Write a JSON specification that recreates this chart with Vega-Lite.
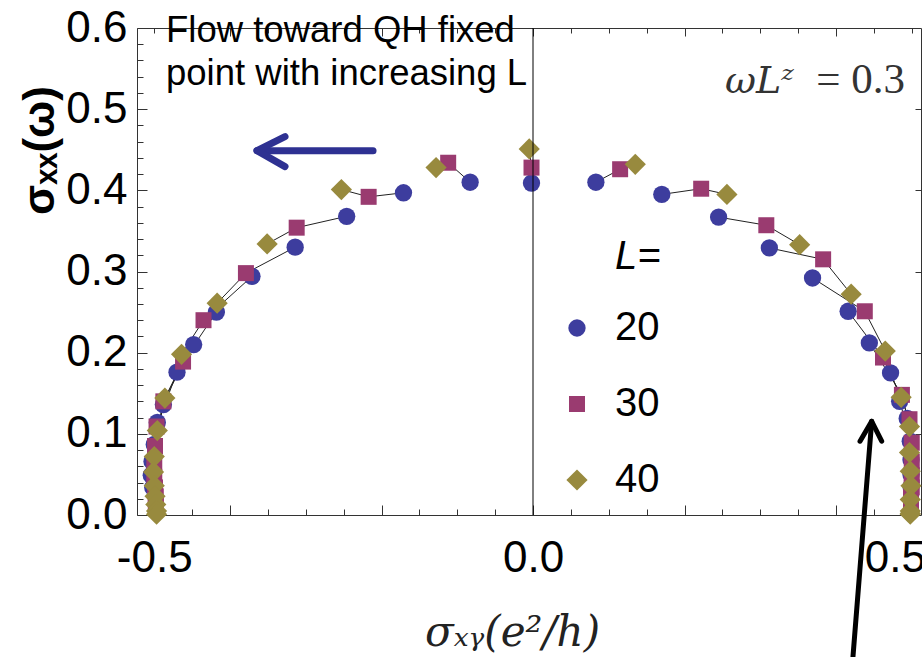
{
  "$schema": "https://vega.github.io/schema/vega-lite/v6.json",
  "width": 784,
  "height": 487,
  "autosize": {"type": "none"},
  "padding": {"left": 137, "top": 28, "right": 1, "bottom": 142},
  "background": "white",
  "datasets": {
    "pts": [
      {"g":"a","L":20,"x":-0.002,"y":0.409},{"g":"b","L":20,"x":-0.083,"y":0.410},{"g":"c","L":20,"x":0.083,"y":0.410},
      {"g":"d","L":20,"x":-0.171,"y":0.397},{"g":"e","L":20,"x":0.170,"y":0.395},{"g":"f","L":20,"x":-0.246,"y":0.368},
      {"g":"g","L":20,"x":0.245,"y":0.367},{"g":"h","L":20,"x":-0.314,"y":0.330},{"g":"h2","L":20,"x":0.312,"y":0.329},
      {"g":"i","L":20,"x":-0.371,"y":0.294},{"g":"i2","L":20,"x":0.369,"y":0.292},{"g":"j","L":20,"x":-0.418,"y":0.250},
      {"g":"j2","L":20,"x":0.416,"y":0.251},{"g":"k","L":20,"x":-0.448,"y":0.210},{"g":"k2","L":20,"x":0.444,"y":0.212},
      {"g":"l","L":20,"x":-0.470,"y":0.176},{"g":"l2","L":20,"x":0.472,"y":0.175},{"g":"m","L":20,"x":-0.488,"y":0.136},
      {"g":"m2","L":20,"x":0.484,"y":0.140},{"g":"n","L":20,"x":-0.496,"y":0.114},{"g":"n2","L":20,"x":0.494,"y":0.119},
      {"g":"o","L":20,"x":-0.500,"y":0.087},{"g":"o2","L":20,"x":0.498,"y":0.091},{"g":"p","L":20,"x":-0.503,"y":0.066},
      {"g":"p2","L":20,"x":0.499,"y":0.068},{"g":"q","L":20,"x":-0.504,"y":0.049},{"g":"q2","L":20,"x":0.499,"y":0.050},
      {"g":"r","L":20,"x":-0.502,"y":0.034},{"g":"r2","L":20,"x":0.499,"y":0.035},

      {"g":"a","L":30,"x":-0.002,"y":0.428},{"g":"b","L":30,"x":-0.112,"y":0.434},{"g":"c","L":30,"x":0.115,"y":0.426},
      {"g":"d","L":30,"x":-0.217,"y":0.392},{"g":"e","L":30,"x":0.222,"y":0.402},{"g":"f","L":30,"x":-0.312,"y":0.354},
      {"g":"g","L":30,"x":0.308,"y":0.357},{"g":"h","L":30,"x":-0.379,"y":0.298},{"g":"h2","L":30,"x":0.383,"y":0.315},
      {"g":"i","L":30,"x":-0.435,"y":0.240},{"g":"i2","L":30,"x":0.438,"y":0.251},{"g":"j","L":30,"x":-0.462,"y":0.189},
      {"g":"j2","L":30,"x":0.462,"y":0.194},{"g":"k","L":30,"x":-0.488,"y":0.140},{"g":"k2","L":30,"x":0.487,"y":0.148},
      {"g":"l","L":30,"x":-0.497,"y":0.109},{"g":"l2","L":30,"x":0.497,"y":0.118},{"g":"m","L":30,"x":-0.499,"y":0.085},
      {"g":"m2","L":30,"x":0.500,"y":0.089},{"g":"n","L":30,"x":-0.500,"y":0.065},{"g":"n2","L":30,"x":0.500,"y":0.066},
      {"g":"o","L":30,"x":-0.500,"y":0.047},{"g":"o2","L":30,"x":0.500,"y":0.049},{"g":"p","L":30,"x":-0.499,"y":0.034},
      {"g":"p2","L":30,"x":0.500,"y":0.034},{"g":"q","L":30,"x":-0.498,"y":0.023},{"g":"q2","L":30,"x":0.499,"y":0.022},
      {"g":"r","L":30,"x":-0.498,"y":0.012},{"g":"r2","L":30,"x":0.499,"y":0.012},

      {"g":"a","L":40,"x":-0.005,"y":0.451},{"g":"b","L":40,"x":-0.128,"y":0.428},{"g":"c","L":40,"x":0.135,"y":0.432},
      {"g":"d","L":40,"x":-0.253,"y":0.401},{"g":"e","L":40,"x":0.256,"y":0.395},{"g":"f","L":40,"x":-0.351,"y":0.334},
      {"g":"g","L":40,"x":0.352,"y":0.333},{"g":"h","L":40,"x":-0.417,"y":0.261},{"g":"h2","L":40,"x":0.420,"y":0.272},
      {"g":"i","L":40,"x":-0.464,"y":0.198},{"g":"i2","L":40,"x":0.465,"y":0.202},{"g":"j","L":40,"x":-0.486,"y":0.144},
      {"g":"j2","L":40,"x":0.486,"y":0.145},{"g":"k","L":40,"x":-0.496,"y":0.104},{"g":"k2","L":40,"x":0.497,"y":0.109},
      {"g":"l","L":40,"x":-0.500,"y":0.072},{"g":"l2","L":40,"x":0.497,"y":0.077},{"g":"m","L":40,"x":-0.501,"y":0.053},
      {"g":"m2","L":40,"x":0.498,"y":0.054},{"g":"n","L":40,"x":-0.500,"y":0.036},{"g":"n2","L":40,"x":0.499,"y":0.036},
      {"g":"o","L":40,"x":-0.499,"y":0.023},{"g":"o2","L":40,"x":0.498,"y":0.019},{"g":"p","L":40,"x":-0.498,"y":0.013},
      {"g":"p2","L":40,"x":0.498,"y":0.005},{"g":"q","L":40,"x":-0.497,"y":0.005},{"g":"q2","L":40,"x":0.498,"y":0.002},
      {"g":"r","L":40,"x":-0.497,"y":0.001},{"g":"r2","L":40,"x":0.498,"y":0.001}
    ],
    "navy": [
      {"p":"shaft","o":1,"x":-0.2112,"y":0.4489},{"p":"shaft","o":2,"x":-0.3644,"y":0.4489},
      {"p":"head","o":1,"x":-0.3274,"y":0.4661},{"p":"head","o":2,"x":-0.3644,"y":0.4489},{"p":"head","o":3,"x":-0.3274,"y":0.4292}
    ],
    "blk": [
      {"p":"shaft","o":1,"x":0.4224,"y":-0.1743},{"p":"shaft","o":2,"x":0.4471,"y":0.1155},
      {"p":"head","o":1,"x":0.4317,"y":0.0909},{"p":"head","o":2,"x":0.4471,"y":0.1155},{"p":"head","o":3,"x":0.4603,"y":0.0909}
    ]
  },
  "layer": [
    {
      "data": {"name": "pts"},
      "mark": {"type": "line", "color": "#222", "strokeWidth": 1},
      "encoding": {
        "x": {"field": "x", "type": "quantitative", "scale": {"domain": [-0.5228, 0.5122], "nice": false, "zero": false},
              "axis": {"orient": "bottom", "values": [-0.5,-0.45,-0.35,-0.3,-0.25,-0.15,-0.1,-0.05,0.05,0.1,0.15,0.25,0.3,0.35,0.45,0.5], "tickSize": -6, "labels": false, "title": null}},
        "y": {"field": "y", "type": "quantitative", "scale": {"domain": [0, 0.6], "nice": false, "zero": false},
              "axis": {"orient": "left", "values": [0.02,0.04,0.06,0.08,0.12,0.14,0.16,0.18,0.22,0.24,0.26,0.28,0.32,0.34,0.36,0.38,0.42,0.44,0.46,0.48,0.52,0.54,0.56,0.58], "tickSize": -6, "labels": false, "title": null}},
        "detail": {"field": "g"},
        "order": {"field": "L", "type": "quantitative"}
      }
    },
    {
      "data": {"name": "pts"},
      "mark": {"type": "point", "filled": true, "opacity": 1, "strokeWidth": 0},
      "encoding": {
        "x": {"field": "x", "type": "quantitative", "scale": {"domain": [-0.5228, 0.5122], "nice": false, "zero": false},
              "axis": {"orient": "bottom", "values": [-0.4,-0.2,0,0.2,0.4], "tickSize": -10, "labels": false, "title": null}},
        "y": {"field": "y", "type": "quantitative", "scale": {"domain": [0, 0.6], "nice": false, "zero": false},
              "axis": {"orient": "left", "values": [0,0.1,0.2,0.3,0.4,0.5,0.6], "ticks": false, "labelFontSize": 44, "labelPadding": 10,
                       "labelExpr": "format(datum.value,'.1f')", "labelFlush": false, "labelOverlap": false, "labelBound": false,
                       "title": "σₓₓ(ω)", "titleFont": "Liberation Sans", "titleFontWeight": "bold", "titleFontSize": 44,
                       "titleX": -97, "titleY": 122, "titleAngle": -90, "titleAlign": "center", "titleBaseline": "middle", "titleColor": "#000"}},
        "color": {"field": "L", "type": "nominal", "scale": {"domain": [20,30,40], "range": ["#3d3d9e","#9a3b70","#988a3e"]},
                  "legend": {"orient": "none", "legendX": 420, "legendY": 280, "title": null, "labelFontSize": 40, "labelFont": "Liberation Sans",
                             "labelColor": "#000", "labelOffset": 18, "rowPadding": 36, "padding": 0, "symbolStrokeWidth": 0, "symbolOpacity": 1}},
        "shape": {"field": "L", "type": "nominal", "scale": {"domain": [20,30,40], "range": ["circle","square","diamond"]}},
        "size": {"field": "L", "type": "nominal", "scale": {"type": "ordinal", "domain": [20,30,40], "range": [300,256,450]}}
      }
    },
    {
      "data": {"values": [{}]},
      "mark": {"type": "rule", "color": "#000", "strokeWidth": 1},
      "encoding": {
        "x": {"datum": 0, "type": "quantitative", "scale": {"domain": [-0.5228, 0.5122], "nice": false, "zero": false},
              "axis": {"orient": "bottom", "values": [-0.5,0,0.5], "ticks": false, "labelFontSize": 44, "labelPadding": 21,
                       "labelExpr": "datum.value == 0 ? '0.0' : (datum.value > 0 ? '0.5' : '-0.5')",
                       "labelFlush": false, "labelOverlap": false, "labelBound": false,
                       "labelOffset": {"condition": {"test": "datum.value > 0.4", "value": -17}, "value": 0},
                       "title": "σₓᵧ(e²/h)", "titleFont": "DejaVu Serif", "titleFontStyle": "italic", "titleFontWeight": "normal",
                       "titleFontSize": 42, "titleX": 375, "titleY": 130, "titleAlign": "center", "titleBaseline": "alphabetic", "titleColor": "#222"}}
      }
    },
    {
      "data": {"values": [{}]},
      "mark": {"type": "text", "align": "left", "baseline": "alphabetic", "fontSize": 36.5, "lineHeight": 43, "font": "Liberation Sans", "color": "#000"},
      "encoding": {
        "x": {"datum": -0.4845, "type": "quantitative", "scale": {"domain": [-0.5228, 0.5122], "nice": false, "zero": false},
              "axis": {"orient": "top", "values": [-0.5,-0.45,-0.35,-0.3,-0.25,-0.15,-0.1,-0.05,0.05,0.1,0.15,0.25,0.3,0.35,0.45,0.5], "tickSize": -5, "labels": false, "title": null}},
        "y": {"datum": 0.583, "type": "quantitative", "scale": {"domain": [0, 0.6], "nice": false, "zero": false},
              "axis": {"orient": "left", "values": [0,0.1,0.2,0.3,0.4,0.5,0.6], "tickSize": -10, "labels": false, "title": null}},
        "text": {"value": ["Flow toward QH fixed", "point with increasing L"]}
      }
    },
    {
      "data": {"values": [{}]},
      "mark": {"type": "text", "align": "left", "baseline": "alphabetic", "fontSize": 38, "font": "DejaVu Serif", "fontStyle": "italic", "color": "#333"},
      "encoding": {
        "x": {"datum": 0.2535, "type": "quantitative", "scale": {"domain": [-0.5228, 0.5122], "nice": false, "zero": false},
              "axis": {"orient": "top", "values": [-0.4,-0.2,0,0.2,0.4], "tickSize": -8, "labels": false, "title": null}},
        "y": {"datum": 0.5203, "type": "quantitative", "scale": {"domain": [0, 0.6], "nice": false, "zero": false},
              "axis": {"orient": "right", "values": [0.1,0.2,0.3,0.4,0.5], "tickSize": -6, "labels": false, "title": null}},
        "text": {"value": "ωLᶻ"}
      }
    },
    {
      "data": {"values": [{}]},
      "mark": {"type": "text", "align": "right", "baseline": "alphabetic", "fontSize": 43, "font": "Liberation Serif", "color": "#333"},
      "encoding": {
        "x": {"datum": 0.4911, "type": "quantitative", "scale": {"domain": [-0.5228, 0.5122], "nice": false, "zero": false}, "axis": null},
        "y": {"datum": 0.5203, "type": "quantitative", "scale": {"domain": [0, 0.6], "nice": false, "zero": false}, "axis": null},
        "text": {"value": "= 0.3"}
      }
    },
    {
      "data": {"values": [{}]},
      "mark": {"type": "text", "align": "left", "baseline": "alphabetic", "fontSize": 40, "font": "Liberation Sans", "fontStyle": "italic", "color": "#000"},
      "encoding": {
        "x": {"datum": 0.1082, "type": "quantitative", "scale": {"domain": [-0.5228, 0.5122], "nice": false, "zero": false}, "axis": null},
        "y": {"datum": 0.3036, "type": "quantitative", "scale": {"domain": [0, 0.6], "nice": false, "zero": false}, "axis": null},
        "text": {"value": "L="}
      }
    },
    {
      "data": {"name": "navy"},
      "mark": {"type": "line", "color": "#2e3192", "strokeWidth": 7, "strokeCap": "round", "strokeJoin": "round"},
      "encoding": {
        "x": {"field": "x", "type": "quantitative", "scale": {"domain": [-0.5228, 0.5122], "nice": false, "zero": false}, "axis": null},
        "y": {"field": "y", "type": "quantitative", "scale": {"domain": [0, 0.6], "nice": false, "zero": false}, "axis": null},
        "detail": {"field": "p"},
        "order": {"field": "o", "type": "quantitative"}
      }
    },
    {
      "data": {"name": "blk"},
      "mark": {"type": "line", "color": "#000", "strokeWidth": 5, "strokeCap": "round", "strokeJoin": "round"},
      "encoding": {
        "x": {"field": "x", "type": "quantitative", "scale": {"domain": [-0.5228, 0.5122], "nice": false, "zero": false}, "axis": null},
        "y": {"field": "y", "type": "quantitative", "scale": {"domain": [0, 0.6], "nice": false, "zero": false}, "axis": null},
        "detail": {"field": "p"},
        "order": {"field": "o", "type": "quantitative"}
      }
    }
  ],
  "resolve": {"axis": {"x": "independent", "y": "independent"}},
  "config": {
    "view": {"stroke": "#333", "strokeWidth": 1},
    "axis": {"grid": false, "domain": false, "tickColor": "#333", "tickWidth": 1, "labelFont": "Liberation Sans", "labelColor": "#000"},
    "font": "Liberation Sans"
  }
}
